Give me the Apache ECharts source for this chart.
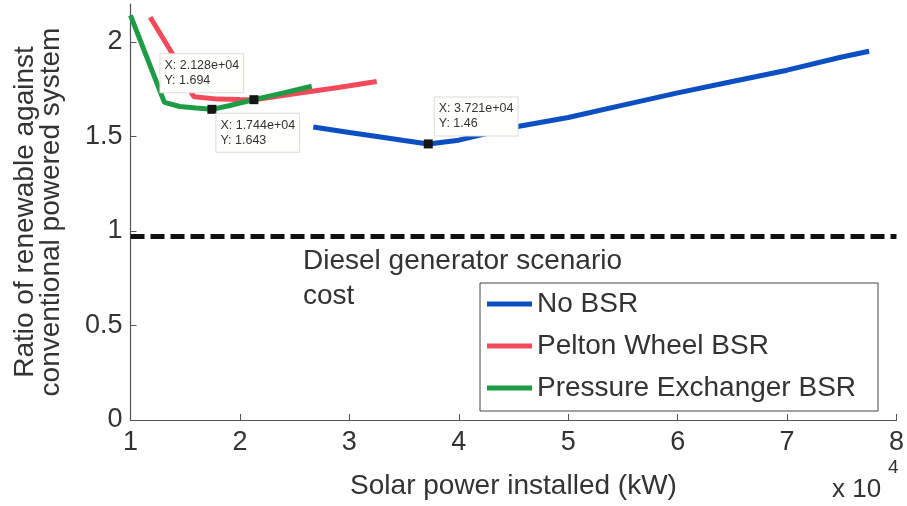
<!DOCTYPE html>
<html>
<head>
<meta charset="utf-8">
<script src="https://cdn.jsdelivr.net/npm/echarts@6/dist/echarts.min.js"></script>
<style>
html,body{margin:0;padding:0;background:#fff;}
#chart{width:907px;height:506px;}
</style>
</head>
<body>
<div id="chart"></div>
<script>
// ---- data (x in units of 10^4 kW) ----
var noBsrX = [2.67, 3.0, 3.3, 3.5, 3.721, 4.0, 4.5, 5.0, 5.5, 6.0, 6.5, 7.0, 7.5, 7.75];
var noBsrY = [1.55, 1.52, 1.495, 1.478, 1.46, 1.48, 1.548, 1.60, 1.665, 1.73, 1.79, 1.85, 1.92, 1.95];

var peltonX = [1.18, 1.39, 1.5, 1.58, 1.8, 2.0, 2.128, 2.5, 2.9, 3.25];
var peltonY = [2.13, 1.93, 1.78, 1.71, 1.697, 1.695, 1.694, 1.725, 1.758, 1.79];

var pxX = [1.0, 1.31, 1.45, 1.6, 1.744, 1.9, 2.128, 2.4, 2.656];
var pxY = [2.14, 1.68, 1.658, 1.65, 1.643, 1.662, 1.694, 1.73, 1.765];

var dieselX = [1, 8];
var dieselY = [0.97, 0.97];

var seriesNames = ['No BSR', 'Pelton Wheel BSR', 'Pressure Exchanger BSR'];
var xTicks = [1, 2, 3, 4, 5, 6, 7, 8];
var yTicks = [0, 0.5, 1, 1.5, 2];

var tip1 = {x: 2.128, y: 1.694, label: 'X: 2.128e+04\nY: 1.694'};
var tip2 = {x: 1.744, y: 1.643, label: 'X: 1.744e+04\nY: 1.643'};
var tip3 = {x: 3.721, y: 1.46, label: 'X: 3.721e+04\nY: 1.46'};

function pairs(xs, ys) { return xs.map(function (v, i) { return [v, ys[i]]; }); }

var FONT = 'Liberation Sans';
var TXT = '#333333';
var AX = '#50545f';

function tipPoint(t, pos) {
  return {
    coord: [t.x, t.y],
    symbol: 'rect',
    symbolSize: 9,
    itemStyle: {color: '#151515'},
    label: {
      show: true,
      formatter: t.label,
      position: pos,
      fontFamily: FONT,
      fontSize: 12.5,
      lineHeight: 15,
      color: '#333',
      backgroundColor: '#fffffb',
      borderColor: '#dcdcdc',
      borderWidth: 1,
      padding: [4, 4, 4, 4]
    }
  };
}

var chart = echarts.init(document.getElementById('chart'), null, {renderer: 'canvas'});
chart.setOption({
  animation: false,
  backgroundColor: '#ffffff',
  grid: {left: 130.5, right: 5, top: 4, bottom: 86, containLabel: false},
  xAxis: {
    type: 'value', min: 1, max: 8, interval: 1,
    name: 'Solar power installed (kW)', nameLocation: 'middle', nameGap: 52,
    nameTextStyle: {fontFamily: FONT, fontSize: 28, color: TXT},
    axisLine: {show: true, onZero: false, lineStyle: {color: AX, width: 1.2}},
    axisTick: {show: true, inside: true, length: 6, lineStyle: {color: AX}},
    axisLabel: {fontFamily: FONT, fontSize: 27, color: TXT, margin: 9,
      formatter: function (v) { return xTicks.indexOf(v) >= 0 ? String(v) : ''; }},
    splitLine: {show: false}
  },
  yAxis: {
    type: 'value', min: 0, max: 2.2, interval: 0.5,
    name: 'Ratio of renewable against\nconventional powered system',
    nameLocation: 'middle', nameGap: 66, nameRotate: 90,
    nameTextStyle: {fontFamily: FONT, fontSize: 28, color: TXT, lineHeight: 26},
    axisLine: {show: true, lineStyle: {color: AX, width: 1.2}},
    axisTick: {show: true, inside: true, length: 6, lineStyle: {color: AX}},
    axisLabel: {fontFamily: FONT, fontSize: 27, color: TXT, margin: 8, showMaxLabel: false,
      formatter: function (v) { return yTicks.indexOf(v) >= 0 ? String(v) : ''; }},
    splitLine: {show: false}
  },
  legend: {
    orient: 'vertical', left: 480, top: 283,
    data: seriesNames,
    icon: 'rect', itemWidth: 45, itemHeight: 5, itemGap: 14,
    padding: [7, 22, 9, 7],
    borderColor: '#444', borderWidth: 1, backgroundColor: '#ffffff',
    textStyle: {fontFamily: FONT, fontSize: 28, color: TXT, padding: [0, 0, 0, 0]}
  },
  series: [
    {
      name: seriesNames[0], type: 'line', data: pairs(noBsrX, noBsrY),
      showSymbol: false, smooth: false, color: '#0c4fc2',
      lineStyle: {width: 5, color: '#0c4fc2'}, z: 3,
      markPoint: {data: [tipPoint(tip3, [11, -42])], z: 10}
    },
    {
      name: seriesNames[1], type: 'line', data: pairs(peltonX, peltonY),
      showSymbol: false, smooth: false, color: '#f24a5a',
      lineStyle: {width: 5, color: '#f24a5a'}, z: 3
    },
    {
      name: seriesNames[2], type: 'line', data: pairs(pxX, pxY),
      showSymbol: false, smooth: false, color: '#1e9b45',
      lineStyle: {width: 5, color: '#1e9b45'}, z: 4,
      markPoint: {data: [tipPoint(tip1, [-89, -41]), tipPoint(tip2, [9, 9])], z: 10}
    },
    {
      name: 'Diesel', type: 'line', data: pairs(dieselX, dieselY),
      showSymbol: false, color: '#111',
      lineStyle: {width: 5, color: '#111', type: [14, 6]}, z: 2
    }
  ],
  graphic: [
    {type: 'text', left: 303, top: 244, style: {text: 'Diesel generator scenario\ncost',
      font: '28px "Liberation Sans"', fill: TXT, lineHeight: 35}},
    {type: 'text', left: 832, top: 477, style: {text: 'x 10', font: '26px "Liberation Sans"', fill: TXT}},
    {type: 'text', left: 888, top: 458, style: {text: '4', font: '19px "Liberation Sans"', fill: TXT}}
  ]
});
</script>
</body>
</html>
